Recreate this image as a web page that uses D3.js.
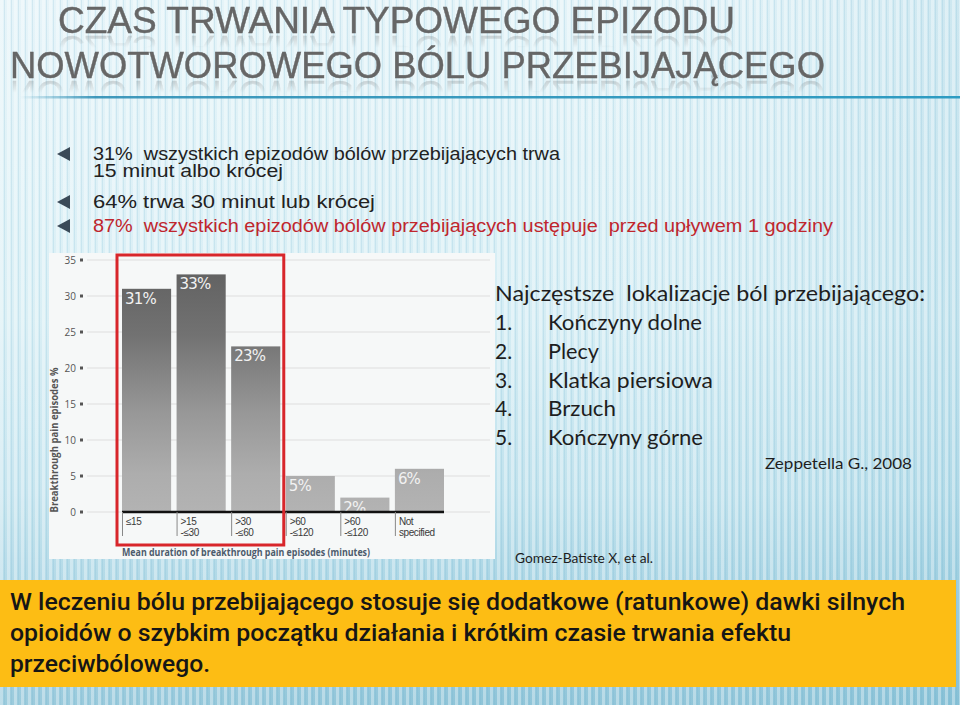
<!DOCTYPE html>
<html><head><meta charset="utf-8">
<script src="https://cdn.jsdelivr.net/npm/d3@7"></script>
<style>
body{margin:0;background:#fff}
#wrap{position:relative;width:960px;height:705px;overflow:hidden}
svg{display:block}
text{white-space:pre}
.title{position:absolute;white-space:nowrap;font-family:'Liberation Sans',Arial,sans-serif;font-size:37px;line-height:37px;color:#666;
  -webkit-text-stroke:0.4px #666;transform-origin:0 0;
  -webkit-box-reflect: below -9px linear-gradient(to bottom, transparent 52%, rgba(255,255,255,0.38));}
</style>
</head><body>
<div id="wrap"><svg id="c" width="960" height="705"></svg></div>
<script>
// ---------- data ----------
const titleLines = ["CZAS TRWANIA TYPOWEGO EPIZODU", "NOWOTWOROWEGO BÓLU PRZEBIJAJĄCEGO"];
const bulletLines = [
  "31%  wszystkich epizodów bólów przebijających trwa",
  "15 minut albo krócej",
  "64% trwa 30 minut lub krócej",
  "87%  wszystkich epizodów bólów przebijających ustępuje  przed upływem 1 godziny"
];
const categories = [["≤15"], [">15", "-≤30"], [">30", "-≤60"], [">60", "-≤120"], [">60", "-≤120"], ["Not", "specified"]];
const values = [31, 33, 23, 5, 2, 6];
const yTicks = [0, 5, 10, 15, 20, 25, 30, 35];
const xTitle = "Mean duration of breakthrough pain episodes (minutes)";
const yTitle = "Breakthrough pain episodes %";
const sideHeading = "Najczęstsze  lokalizacje ból przebijającego:";
const sideItems = ["Kończyny dolne", "Plecy", "Klatka piersiowa", "Brzuch", "Kończyny górne"];
const sourceSide = "Zeppetella G., 2008";
const sourceChart = "Gomez-Batiste X, et al.";
const boxLines = [
  "W leczeniu bólu przebijającego stosuje się dodatkowe (ratunkowe) dawki silnych",
  "opioidów o szybkim początku działania i krótkim czasie trwania efektu",
  "przeciwbólowego."
];

// ---------- setup ----------
const svg = d3.select("#c");
const defs = svg.append("defs");
const sans = "'Liberation Sans',Arial,'DejaVu Sans',sans-serif";

// background
const bg = defs.append("linearGradient").attr("id", "bg").attr("x1", 0).attr("y1", 0).attr("x2", 0).attr("y2", 1);
[[0, "#e3f3f8"], [0.45, "#d5edf4"], [0.7, "#c0e2ed"], [0.85, "#a6d3e3"], [1, "#8ec4d8"]]
  .forEach(([o, c]) => bg.append("stop").attr("offset", o).attr("stop-color", c));
const bgH = defs.append("linearGradient").attr("id", "bgH").attr("x1", 0).attr("y1", 0).attr("x2", 1).attr("y2", 0);
[[0, "#ffffff", 0.12], [0.5, "#ffffff", 0], [1, "#5aaac8", 0.16]]
  .forEach(([o, c, a]) => bgH.append("stop").attr("offset", o).attr("stop-color", c).attr("stop-opacity", a));
const pat = defs.append("pattern").attr("id", "stripes").attr("patternUnits", "userSpaceOnUse").attr("width", 7).attr("height", 10);
pat.append("rect").attr("x", 0).attr("y", 0).attr("width", 3).attr("height", 10).attr("fill", "#ffffff").attr("opacity", 0.35);
pat.append("rect").attr("x", 4).attr("y", 0).attr("width", 1).attr("height", 10).attr("fill", "#6fb3cc").attr("opacity", 0.18);

svg.append("rect").attr("width", 960).attr("height", 705).attr("fill", "url(#bg)");
svg.append("rect").attr("width", 960).attr("height", 705).attr("fill", "url(#bgH)");
svg.append("rect").attr("width", 960).attr("height", 705).attr("fill", "url(#stripes)");

// ---------- title (HTML overlay with CSS reflection) ----------
const titleY = [33, 78];   // baselines
const titleX = [58, 10];
const titleW = [677, 815];
const wrap = d3.select("#wrap");
titleLines.forEach((t, i) => {
  const div = wrap.append("div").attr("class", "title").text(t)
    .style("left", titleX[i] + "px").style("top", (titleY[i] - 31.3) + "px");
  const w = div.node().getBoundingClientRect().width;
  div.style("transform", `scaleX(${titleW[i] / w})`);
});
const lg = defs.append("linearGradient").attr("id", "lineG").attr("x1", 0).attr("x2", 1).attr("y1", 0).attr("y2", 0);
[[0, "#2e8fb5", 0], [0.08, "#2e8fb5", 0.9], [1, "#2e9cc2", 1]]
  .forEach(([o, c, a]) => lg.append("stop").attr("offset", o).attr("stop-color", c).attr("stop-opacity", a));
svg.append("rect").attr("x", 20).attr("y", 96).attr("width", 940).attr("height", 2.5).attr("fill", "url(#lineG)");

// ---------- bullets ----------
const bulletY = [160, 177, 208, 232];
const bulletW = [467, 190, 282, 740];
const bulletColor = ["#222", "#222", "#222", "#c0262d"];
const bulletMark = [true, false, true, true];
bulletLines.forEach((t, i) => {
  if (bulletMark[i]) {
    const cy = bulletY[i] - 6;
    svg.append("path")
      .attr("d", `M57,${cy} L70,${cy - 7} L70,${cy + 7} Z`)
      .attr("fill", "#3a4a58");
  }
  svg.append("text").text(t)
    .attr("x", 93).attr("y", bulletY[i])
    .attr("textLength", bulletW[i]).attr("lengthAdjust", "spacingAndGlyphs")
    .attr("font-family", sans).attr("font-size", 17.5)
    .attr("fill", bulletColor[i]);
});

// ---------- chart panel ----------
svg.append("rect").attr("x", 49).attr("y", 253).attr("width", 446).attr("height", 306)
  .attr("fill", "#f6f8f8");

const x = d3.scaleBand().domain(d3.range(categories.length)).range([122, 444]).paddingInner(0.1).paddingOuter(0);
const y = d3.scaleLinear().domain([0, 35]).range([512, 260]);
const bw = x.bandwidth();

// gridlines + ticks
const g = svg.append("g");
yTicks.forEach(v => {
  g.append("line").attr("x1", 87).attr("x2", 490).attr("y1", y(v)).attr("y2", y(v))
    .attr("stroke", "#dedede").attr("stroke-width", 1);
  g.append("rect").attr("x", 80).attr("y", y(v) - 1.5).attr("width", 3).attr("height", 3).attr("fill", "#555");
  g.append("text").text(v).attr("x", 76).attr("y", y(v) + 3.5).attr("text-anchor", "end")
    .attr("font-family", "'Open Sans',sans-serif").attr("font-size", 10).attr("fill", "#555");
});

// bar gradient (user space)
const barG = defs.append("linearGradient").attr("id", "barG").attr("gradientUnits", "userSpaceOnUse")
  .attr("x1", 0).attr("x2", 0).attr("y1", y(35)).attr("y2", y(0));
[[0, "#5f5f5f"], [0.3, "#727272"], [0.6, "#979797"], [0.85, "#adadad"], [1, "#b3b3b3"]]
  .forEach(([o, c]) => barG.append("stop").attr("offset", o).attr("stop-color", c));

svg.append("g").selectAll("rect").data(values).join("rect")
  .attr("x", (d, i) => x(i)).attr("y", d => y(d))
  .attr("width", bw).attr("height", d => y(0) - y(d))
  .attr("fill", "url(#barG)");

svg.append("g").selectAll("text").data(values).join("text")
  .text(d => d + "%")
  .attr("x", (d, i) => x(i) + 3).attr("y", d => y(d) + 15)
  .attr("font-family", "'DejaVu Sans',sans-serif")
  .attr("font-size", 15).attr("letter-spacing", -0.8)
  .attr("fill", "#f2f2f2");

// baseline
svg.append("line").attr("x1", x(0)).attr("x2", x(categories.length - 1) + bw)
  .attr("y1", y(0)).attr("y2", y(0)).attr("stroke", "#111").attr("stroke-width", 2.5);

// category separators and labels
categories.forEach((lines, i) => {
  svg.append("line").attr("x1", x(i) + 0.5).attr("x2", x(i) + 0.5).attr("y1", y(0)).attr("y2", y(0) + 24)
    .attr("stroke", "#888").attr("stroke-width", 1);
  lines.forEach((ln, j) => {
    svg.append("text").text(ln)
      .attr("x", x(i) + 4).attr("y", y(0) + 13 + j * 10.5)
      .attr("font-family", sans).attr("font-size", 10).attr("letter-spacing", -0.4)
      .attr("fill", "#3a3a3a");
  });
});

// highlight box
svg.append("rect")
  .attr("x", x(0) - 5).attr("y", y(35) - 5)
  .attr("width", x(2) + bw + 3.5 - (x(0) - 5)).attr("height", 545 - (y(35) - 5))
  .attr("fill", "none").attr("stroke", "#d8262b").attr("stroke-width", 3);

// axis titles
svg.append("text").text(xTitle).attr("x", 122).attr("y", 556)
  .attr("textLength", 248).attr("lengthAdjust", "spacingAndGlyphs")
  .attr("font-family", "'Open Sans',sans-serif").attr("font-weight", "bold").attr("font-size", 10)
  .attr("fill", "#4c5b6c");
svg.append("text").text(yTitle)
  .attr("transform", "translate(58,440) rotate(-90)")
  .attr("text-anchor", "middle")
  .attr("textLength", 145).attr("lengthAdjust", "spacingAndGlyphs")
  .attr("font-family", "'Open Sans',sans-serif").attr("font-weight", "bold").attr("font-size", 10)
  .attr("fill", "#555");

// ---------- right side text ----------
const side = "Lato,'Open Sans',sans-serif";
svg.append("text").text(sideHeading).attr("x", 495).attr("y", 301)
  .attr("textLength", 430).attr("lengthAdjust", "spacingAndGlyphs")
  .attr("font-family", side).attr("font-size", 21).attr("fill", "#1e1e1e");
const itemW = [154, 51, 165, 68, 155];
sideItems.forEach((t, i) => {
  const yy = 330 + i * 28.8;
  svg.append("text").text((i + 1) + ".").attr("x", 495).attr("y", yy)
    .attr("font-family", side).attr("font-size", 21).attr("fill", "#1e1e1e");
  svg.append("text").text(t).attr("x", 548).attr("y", yy)
    .attr("textLength", itemW[i]).attr("lengthAdjust", "spacingAndGlyphs")
    .attr("font-family", side).attr("font-size", 21).attr("fill", "#1e1e1e");
});
svg.append("text").text(sourceSide).attr("x", 765).attr("y", 469)
  .attr("textLength", 147).attr("lengthAdjust", "spacingAndGlyphs")
  .attr("font-family", side).attr("font-size", 16).attr("fill", "#1e1e1e");
svg.append("text").text(sourceChart).attr("x", 515).attr("y", 563)
  .attr("textLength", 138).attr("lengthAdjust", "spacingAndGlyphs")
  .attr("font-family", side).attr("font-size", 14).attr("fill", "#1e1e1e");

// ---------- yellow box ----------
svg.append("rect").attr("x", 0).attr("y", 580).attr("width", 956).attr("height", 107).attr("fill", "#fdbd14");
const boxW = [895, 781, 200];
const boxY = [610, 641, 672];
boxLines.forEach((t, i) => {
  svg.append("text").text(t).attr("x", 10).attr("y", boxY[i])
    .attr("textLength", boxW[i]).attr("lengthAdjust", "spacingAndGlyphs")
    .attr("font-family", "Roboto,'Liberation Sans',sans-serif").attr("font-weight", 500)
    .attr("font-size", 23).attr("fill", "#161616");
});
</script>
</body></html>
